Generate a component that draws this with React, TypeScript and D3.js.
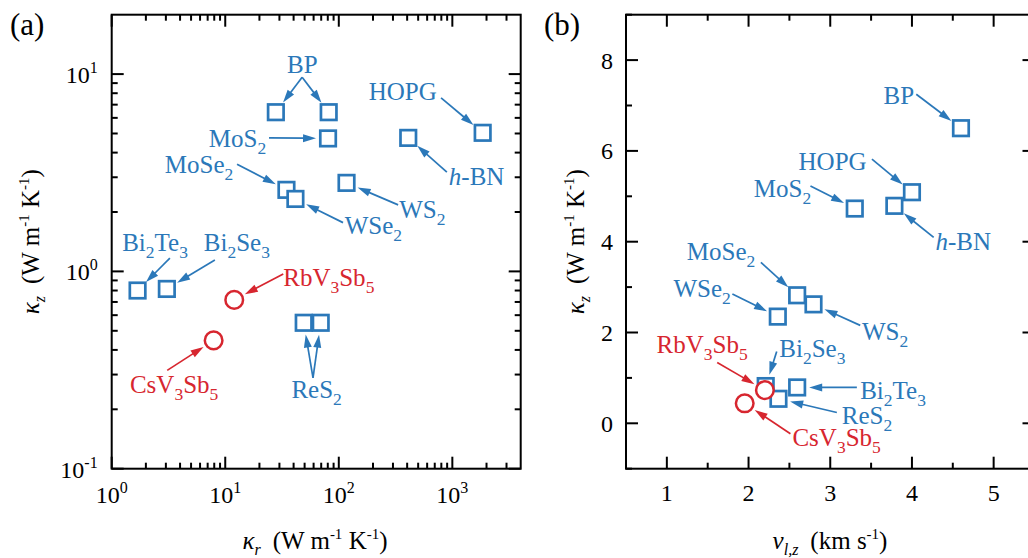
import React from 'react';
import * as d3 from 'd3';

// ---------------- Panel (a): kappa_z vs kappa_r ----------------
const layeredNamesA = ['BP', 'BP', 'MoS2', 'HOPG', 'h-BN', 'WS2', 'MoSe2', 'WSe2', 'Bi2Te3', 'Bi2Se3', 'ReS2', 'ReS2'];
const layeredKappaR = [27.9, 81.5, 80.4, 1850, 409, 117, 34.6, 41.5, 1.69, 3.06, 49.1, 69.3];
const layeredKappaZA = [6.41, 6.41, 4.72, 5.04, 4.75, 2.81, 2.59, 2.33, 0.8, 0.815, 0.549, 0.549];
const kagomeNamesA = ['RbV3Sb5', 'CsV3Sb5'];
const kagomeKappaR = [12.0, 7.9];
const kagomeKappaZA = [0.717, 0.447];

// ---------------- Panel (b): kappa_z vs v_l,z ----------------
const layeredNamesB = ['BP', 'HOPG', 'h-BN', 'MoS2', 'MoSe2', 'WS2', 'WSe2', 'Bi2Se3', 'Bi2Te3', 'ReS2'];
const layeredVlz = [4.6, 4.0, 3.785, 3.3, 2.595, 2.795, 2.358, 2.21, 2.595, 2.366];
const layeredKappaZB = [6.5, 5.09, 4.79, 4.73, 2.82, 2.62, 2.35, 0.82, 0.79, 0.54];
const kagomeNamesB = ['RbV3Sb5', 'CsV3Sb5'];
const kagomeVlz = [2.2, 1.953];
const kagomeKappaZB = [0.73, 0.44];

// ---------------- Ticks ----------------
const xTicksA = [1, 10, 100, 1000];
const xTickExpA = ['0', '1', '2', '3'];
const yTicksA = [0.1, 1, 10];
const yTickExpA = ['-1', '0', '1'];
const xTicksB = [1, 2, 3, 4, 5];
const yTicksB = [0, 2, 4, 6, 8];

// ---------------- Styling / layout ----------------
const BLUE = '#2b78b9';
const RED = '#d7262f';
const FONT = '"Liberation Serif", "Times New Roman", Times, serif';

const A = { left: 111.7, right: 520.7, top: 14.7, bottom: 468.7 };
const B = { left: 626, right: 1034.5, top: 14.7, bottom: 468.7 };

const xA = d3.scaleLog().domain([1, 4000]).range([A.left, A.right]);
const yA = d3.scaleLog().domain([0.1, 20]).range([A.bottom, A.top]);
const xB = d3.scaleLinear().domain([0.5, 5.5]).range([B.left, B.right]);
const yB = d3.scaleLinear().domain([-1, 9]).range([B.bottom, B.top]);

// annotation layout: label offset (dx,dy) and arrow start (sx,sy) relative to first target (pixels)
type Ann = { g: 'L' | 'K'; idx: number[]; dx: number; dy: number; sx: number; sy: number; anchor?: string };
const annA: Ann[] = [
  { g: 'L', idx: [0, 1], dx: 26.5, dy: -39.3, sx: 26.3, sy: -35, anchor: 'middle' },
  { g: 'L', idx: [2], dx: -119.3, dy: 8.4, sx: -59, sy: -0.6 },
  { g: 'L', idx: [3], dx: -114, dy: -32.4, sx: -41.6, sy: -35 },
  { g: 'L', idx: [4], dx: 40.6, dy: 47.6, sx: 38.6, sy: 34.3 },
  { g: 'L', idx: [5], dx: 52.6, dy: 34.7, sx: 51.6, sy: 22 },
  { g: 'L', idx: [6], dx: -121.7, dy: -16.7, sx: -49.4, sy: -25.7 },
  { g: 'L', idx: [7], dx: 49.3, dy: 35.3, sx: 47.6, sy: 23.7 },
  { g: 'L', idx: [8], dx: -15.4, dy: -39.3, sx: 32.3, sy: -32.3 },
  { g: 'L', idx: [9], dx: 37, dy: -37.6, sx: 48, sy: -29 },
  { g: 'L', idx: [10, 11], dx: -12.3, dy: 75, sx: 9.3, sy: 55 },
  { g: 'K', idx: [0], dx: 49, dy: -14.3, sx: 49, sy: -26 },
  { g: 'K', idx: [1], dx: -83.7, dy: 52.7, sx: -46.4, sy: 30 },
];
const annB: Ann[] = [
  { g: 'L', idx: [0], dx: -77.4, dy: -24, sx: -44.7, sy: -34 },
  { g: 'L', idx: [1], dx: -113.4, dy: -22.3, sx: -40, sy: -33 },
  { g: 'L', idx: [2], dx: 41, dy: 44.3, sx: 39.3, sy: 31.6 },
  { g: 'L', idx: [3], dx: -101, dy: -11.6, sx: -44.3, sy: -22.6 },
  { g: 'L', idx: [4], dx: -110.3, dy: -35.7, sx: -36.3, sy: -33 },
  { g: 'L', idx: [5], dx: 48.4, dy: 36, sx: 46.7, sy: 21 },
  { g: 'L', idx: [6], dx: -104.4, dy: -19.3, sx: -45.4, sy: -22.7 },
  { g: 'L', idx: [7], dx: 13.6, dy: -29.3, sx: 11, sy: -34.6 },
  { g: 'L', idx: [8], dx: 63, dy: 11.6, sx: 59.7, sy: 0 },
  { g: 'L', idx: [9], dx: 63.4, dy: 25.3, sx: 58.4, sy: 13.7 },
  { g: 'K', idx: [0], dx: -108.3, dy: -37.6, sx: -47.7, sy: -27.6 },
  { g: 'K', idx: [1], dx: 47.7, dy: 42.7, sx: 45.7, sy: 30.4 },
];

function formulaParts(name: string) {
  if (name === 'h-BN') return [{ t: 'h', italic: true, sub: false }, { t: '-BN', italic: false, sub: false }];
  const parts: { t: string; sub: boolean; italic: boolean }[] = [];
  const re = /(\d+)|(\D+)/g;
  let m: RegExpExecArray | null;
  while ((m = re.exec(name))) parts.push(m[1] ? { t: m[1], sub: true, italic: false } : { t: m[2], sub: false, italic: false });
  return parts;
}

function Formula({ name, x, y, color, anchor = 'start' }: { name: string; x: number; y: number; color: string; anchor?: string }) {
  const parts = formulaParts(name);
  let shift = 0;
  return (
    <text x={x} y={y} fill={color} fontSize={25} fontFamily={FONT} textAnchor={anchor}>
      {parts.map((p, i) => {
        const target = p.sub ? 7 : 0;
        const dy = target - shift;
        shift = target;
        return (
          <tspan key={i} dy={dy} fontSize={p.sub ? 17.5 : 25} fontStyle={p.italic ? 'italic' : 'normal'}>
            {p.t}
          </tspan>
        );
      })}
    </text>
  );
}

function Arrow({ x1, y1, x2, y2, color }: { x1: number; y1: number; x2: number; y2: number; color: string }) {
  const L = Math.hypot(x2 - x1, y2 - y1);
  const ux = (x2 - x1) / L, uy = (y2 - y1) / L;
  const head = 13, hw = 4;
  const bx = x2 - ux * head, by = y2 - uy * head;
  const px = -uy, py = ux;
  return (
    <g>
      <line x1={x1} y1={y1} x2={bx + ux * 2} y2={by + uy * 2} stroke={color} strokeWidth={1.7} />
      <polygon points={`${x2},${y2} ${bx + px * hw},${by + py * hw} ${bx - px * hw},${by - py * hw}`} fill={color} />
    </g>
  );
}

function Annotations({ anns, layered, kagome }: { anns: Ann[]; layered: { x: number; y: number; name: string }[]; kagome: { x: number; y: number; name: string }[] }) {
  return (
    <g>
      {anns.map((a, i) => {
        const set = a.g === 'L' ? layered : kagome;
        const color = a.g === 'L' ? BLUE : RED;
        const p0 = set[a.idx[0]];
        const sx = p0.x + a.sx, sy = p0.y + a.sy;
        return (
          <g key={i}>
            <Formula name={p0.name} x={p0.x + a.dx} y={p0.y + a.dy} color={color} anchor={a.anchor} />
            {a.idx.map((j) => {
              const p = set[j];
              const L = Math.hypot(sx - p.x, sy - p.y);
              const gap = 12;
              const tx = p.x + ((sx - p.x) / L) * gap;
              const ty = p.y + ((sy - p.y) / L) * gap;
              return <Arrow key={j} x1={sx} y1={sy} x2={tx} y2={ty} color={color} />;
            })}
          </g>
        );
      })}
    </g>
  );
}

function Markers({ layered, kagome }: { layered: { x: number; y: number }[]; kagome: { x: number; y: number }[] }) {
  const s = 15.5;
  return (
    <g>
      {layered.map((p, i) => (
        <rect key={'s' + i} x={p.x - s / 2} y={p.y - s / 2} width={s} height={s} fill="white" stroke={BLUE} strokeWidth={2.7} />
      ))}
      {kagome.map((p, i) => (
        <circle key={'c' + i} cx={p.x} cy={p.y} r={8.8} fill="white" stroke={RED} strokeWidth={2.5} />
      ))}
    </g>
  );
}

function Frame({ box, xMajor, xMinor, yMajor, yMinor }: { box: typeof A; xMajor: number[]; xMinor: number[]; yMajor: number[]; yMinor: number[] }) {
  const maj = 12, mn = 6;
  const lines: React.ReactNode[] = [];
  const add = (k: string, x1: number, y1: number, x2: number, y2: number) =>
    lines.push(<line key={k} x1={x1} y1={y1} x2={x2} y2={y2} stroke="black" strokeWidth={2} />);
  xMajor.forEach((x, i) => { add('xb' + i, x, box.bottom, x, box.bottom - maj); add('xt' + i, x, box.top, x, box.top + maj); });
  xMinor.forEach((x, i) => { add('xbm' + i, x, box.bottom, x, box.bottom - mn); add('xtm' + i, x, box.top, x, box.top + mn); });
  yMajor.forEach((y, i) => { add('yl' + i, box.left, y, box.left + maj, y); add('yr' + i, box.right, y, box.right - maj, y); });
  yMinor.forEach((y, i) => { add('ylm' + i, box.left, y, box.left + mn, y); add('yrm' + i, box.right, y, box.right - mn, y); });
  return (
    <g>
      {lines}
      <rect x={box.left} y={box.top} width={box.right - box.left} height={box.bottom - box.top} fill="none" stroke="black" strokeWidth={2} />
    </g>
  );
}

function UnitTitle({ sym, sub, unit, x, y, rotate }: { sym: string; sub: string; unit: 'W' | 'km'; x: number; y: number; rotate?: boolean }) {
  const tr = rotate ? `translate(${x},${y}) rotate(-90)` : `translate(${x},${y})`;
  return (
    <text transform={tr} fontSize={25} textAnchor="middle" fontFamily={FONT}>
      <tspan fontStyle="italic">{sym}</tspan>
      <tspan dy={6} fontSize={16} fontStyle="italic">{sub}</tspan>
      {unit === 'W' ? (
        <>
          <tspan dy={-6} dx={12}>(W m</tspan>
          <tspan dy={-10} fontSize={15}>-1</tspan>
          <tspan dy={10}> K</tspan>
          <tspan dy={-10} fontSize={15}>-1</tspan>
          <tspan dy={10}>)</tspan>
        </>
      ) : (
        <>
          <tspan dy={-6} dx={12}>(km s</tspan>
          <tspan dy={-10} fontSize={15}>-1</tspan>
          <tspan dy={10}>)</tspan>
        </>
      )}
    </text>
  );
}

export default function App() {
  const layA = layeredNamesA.map((n, i) => ({ name: n, x: xA(layeredKappaR[i]), y: yA(layeredKappaZA[i]) }));
  const kagA = kagomeNamesA.map((n, i) => ({ name: n, x: xA(kagomeKappaR[i]), y: yA(kagomeKappaZA[i]) }));
  const layB = layeredNamesB.map((n, i) => ({ name: n, x: xB(layeredVlz[i]), y: yB(layeredKappaZB[i]) }));
  const kagB = kagomeNamesB.map((n, i) => ({ name: n, x: xB(kagomeVlz[i]), y: yB(kagomeKappaZB[i]) }));

  const xMinorA = xA.ticks().filter((v) => !xTicksA.includes(v) && v < 4000).map((v) => xA(v));
  const yMinorA = yA.ticks().filter((v) => !yTicksA.some((t) => Math.abs(t - v) < 1e-9) && v < 20).map((v) => yA(v));
  const xMinorB = d3.range(0.5, 5.51, 0.5).filter((v) => !Number.isInteger(v)).map((v) => xB(v));
  const yMinorB = d3.range(-1, 9.01, 1).filter((v) => v % 2 !== 0).map((v) => yB(v));

  return (
    <svg width={1028} height={558} style={{ position: 'absolute', left: 0, top: 0, background: 'white' }} fontFamily={FONT}>
      {/* ---------- Panel (a) ---------- */}
      <text x={10} y={35} fontSize={31}>(a)</text>
      <Frame box={A} xMajor={xTicksA.map((v) => xA(v))} xMinor={xMinorA} yMajor={yTicksA.map((v) => yA(v))} yMinor={yMinorA} />
      {xTicksA.map((v, i) => (
        <text key={'xa' + i} x={xA(v)} y={503} fontSize={24} textAnchor="middle">
          10<tspan dy={-10} fontSize={16}>{xTickExpA[i]}</tspan>
        </text>
      ))}
      {yTicksA.map((v, i) => (
        <text key={'ya' + i} x={A.left - 14} y={yA(v) + 9} fontSize={24} textAnchor="end">
          10<tspan dy={-10} fontSize={16}>{yTickExpA[i]}</tspan>
        </text>
      ))}
      <UnitTitle sym="κ" sub="r" unit="W" x={315} y={549} />
      <UnitTitle sym="κ" sub="z" unit="W" x={39} y={(A.top + A.bottom) / 2} rotate />
      <Markers layered={layA} kagome={kagA} />
      <Annotations anns={annA} layered={layA} kagome={kagA} />

      {/* ---------- Panel (b) ---------- */}
      <text x={544} y={35} fontSize={31}>(b)</text>
      <Frame box={B} xMajor={xTicksB.map((v) => xB(v))} xMinor={xMinorB} yMajor={yTicksB.map((v) => yB(v))} yMinor={yMinorB} />
      {xTicksB.map((v, i) => (
        <text key={'xb' + i} x={xB(v)} y={501} fontSize={24} textAnchor="middle">{v}</text>
      ))}
      {yTicksB.map((v, i) => (
        <text key={'yb' + i} x={B.left - 13} y={yB(v) + 8.5} fontSize={24} textAnchor="end">{v}</text>
      ))}
      <UnitTitle sym="v" sub="l,z" unit="km" x={830} y={549} />
      <UnitTitle sym="κ" sub="z" unit="W" x={584} y={(B.top + B.bottom) / 2} rotate />
      <Markers layered={layB} kagome={kagB} />
      <Annotations anns={annB} layered={layB} kagome={kagB} />
    </svg>
  );
}
